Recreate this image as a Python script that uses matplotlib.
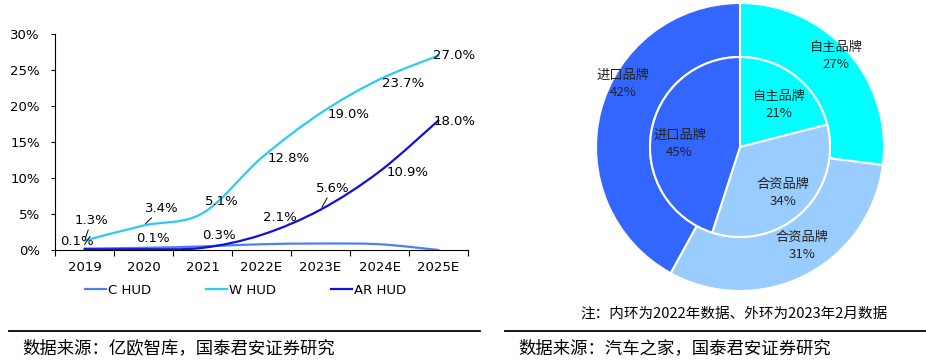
import numpy as np
import matplotlib
matplotlib.use("Agg")
import matplotlib.pyplot as plt
from matplotlib.path import Path
from matplotlib.patches import PathPatch
from matplotlib.lines import Line2D

plt.rcParams['font.family'] = ['Noto Sans CJK SC', 'DejaVu Sans']

# ---- data: HUD penetration ----
years = ['2019', '2020', '2021', '2022E', '2023E', '2024E', '2025E']
c_hud = [0.2, 0.3, 0.5, 0.8, 0.9, 0.8, 0.0]
w_hud = [1.3, 3.4, 5.1, 12.8, 19.0, 23.7, 27.0]
ar_hud = [0.1, 0.1, 0.3, 2.1, 5.6, 10.9, 18.0]

# ---- data: brand share rings ----
brands = ['自主品牌', '合资品牌', '进口品牌']
inner_share = [21, 34, 45]   # 2022
outer_share = [27, 31, 42]   # 2023-02

# label offsets in pixels (dx, dy) from each point
w_off = [(7, 20), (18, 17), (19, 12), (27, -1), (28, -1), (24, -4), (16, 0)]
ar_off = [(-8, 8), (9, 11), (16, 12), (18, 17), (12, 21), (28, -1), (16, -1)]
w_leader = [True, True, False, False, False, False, False]
ar_leader = [False, False, False, False, True, False, False]

FS = 9.5


def smooth_path(xs, ys):
    # catmull-rom through the data points, as bezier segments
    pts = list(zip(xs, ys))
    verts = [pts[0]]
    codes = [Path.MOVETO]
    n = len(pts)
    for i in range(n - 1):
        p0 = pts[max(i - 1, 0)]
        p1 = pts[i]
        p2 = pts[i + 1]
        p3 = pts[min(i + 2, n - 1)]
        c1 = (p1[0] + (p2[0] - p0[0]) / 6, p1[1] + (p2[1] - p0[1]) / 6)
        c2 = (p2[0] - (p3[0] - p1[0]) / 6, p2[1] - (p3[1] - p1[1]) / 6)
        verts += [c1, c2, p2]
        codes += [Path.CURVE4] * 3
    return Path(verts, codes)


fig = plt.figure(figsize=(9.26, 3.6), dpi=100)

# ---------- left: line chart ----------
ax = fig.add_axes([55 / 926, 110 / 360, 413 / 926, 216 / 360])
x = np.arange(len(years))
series = [('C HUD', c_hud, '#4f7ff5'), ('W HUD', w_hud, '#2ccaf5'), ('AR HUD', ar_hud, '#1010d8')]
handles = []
for name, vals, col in series:
    ax.add_patch(PathPatch(smooth_path(x, vals), fill=False, edgecolor=col, lw=1.6,
                           capstyle='round', zorder=3 if name == 'AR HUD' else 2))
    handles.append(Line2D([], [], color=col, lw=1.6, label=name))

for vals, offs, leads in [(w_hud, w_off, w_leader), (ar_hud, ar_off, ar_leader)]:
    for i, v in enumerate(vals):
        kw = {}
        if leads[i]:
            kw['arrowprops'] = dict(arrowstyle='-', color='black', lw=0.7, shrinkA=0, shrinkB=2)
        ax.annotate(f'{v:.1f}%', (x[i], v), xytext=offs[i], textcoords='offset pixels',
                    ha='center', va='center', fontsize=FS, family='DejaVu Sans', zorder=5, **kw)

ax.set_xlim(-0.5, len(years) - 0.5)
ax.set_ylim(0, 30)
ax.set_yticks(range(0, 31, 5))
ax.set_yticklabels([f'{t}%' for t in range(0, 31, 5)], family='DejaVu Sans', fontsize=FS)
ax.set_xticks(x)
ax.set_xticklabels(years, family='DejaVu Sans', fontsize=FS)
ax.set_xticks(np.arange(-0.5, len(years)), minor=True)
ax.tick_params(axis='x', which='major', length=0, pad=8)
ax.tick_params(axis='x', which='minor', length=4, width=0.8, direction='out')
ax.tick_params(axis='y', length=3, width=0.8, direction='out', pad=8)
for s in ['top', 'right']:
    ax.spines[s].set_visible(False)
for s in ['left', 'bottom']:
    ax.spines[s].set_linewidth(0.8)

fig.legend(handles=handles, loc='center left', bbox_to_anchor=(80 / 926, 1 - 290 / 360),
           ncol=3, frameon=False, handlelength=1.55, handletextpad=0.15, columnspacing=4.2,
           prop={'family': 'DejaVu Sans', 'size': FS}, borderaxespad=0)

# ---------- right: nested rings ----------
pax = fig.add_axes([(740 - 150) / 926, (360 - 147 - 150) / 360, 300 / 926, 300 / 360])
colors = ['#00ffff', '#99ccff', '#3366ff']
r_in = 90 / 144
wo, _ = pax.pie(outer_share, radius=1, colors=colors, startangle=90, counterclock=False,
                wedgeprops=dict(width=1 - r_in, edgecolor='white', linewidth=1.5))
wi, _ = pax.pie(inner_share, radius=r_in, colors=colors, startangle=90, counterclock=False,
                wedgeprops=dict(edgecolor='white', linewidth=1.5))
pax.set_xlim(-150 / 144, 150 / 144)
pax.set_ylim(-150 / 144, 150 / 144)
pax.set_aspect('equal')

in_r = [0.40, 0.44, 0.42]
in_shift = [-5, 0, 6]
out_r = [0.92, 0.81, 0.92]
out_shift = [2, 5, -14]
for wedges, shares, rr, sh in [(wi, inner_share, in_r, in_shift), (wo, outer_share, out_r, out_shift)]:
    for k, w in enumerate(wedges):
        ang = np.deg2rad((w.theta1 + w.theta2) / 2 + sh[k])
        pax.text(rr[k] * np.cos(ang), rr[k] * np.sin(ang), f'{brands[k]}\n{shares[k]}%',
                 ha='center', va='center', fontsize=9.5, linespacing=1.45, color='#222222')

# ---------- notes, rules, sources ----------
fig.text(734 / 926, 1 - 314 / 360, '注：内环为2022年数据、外环为2023年2月数据',
         ha='center', va='center', fontsize=10.5)
fig.add_artist(Line2D([9 / 926, 480 / 926], [1 - 331 / 360] * 2, color='black', lw=1.3))
fig.add_artist(Line2D([505 / 926, 1.0], [1 - 331 / 360] * 2, color='black', lw=1.3))
fig.text(22 / 926, 1 - 348 / 360, '数据来源：亿欧智库，国泰君安证券研究', ha='left', va='center', fontsize=12.5)
fig.text(518 / 926, 1 - 348 / 360, '数据来源：汽车之家，国泰君安证券研究', ha='left', va='center', fontsize=12.5)

fig.savefig('out.png', dpi=100)
